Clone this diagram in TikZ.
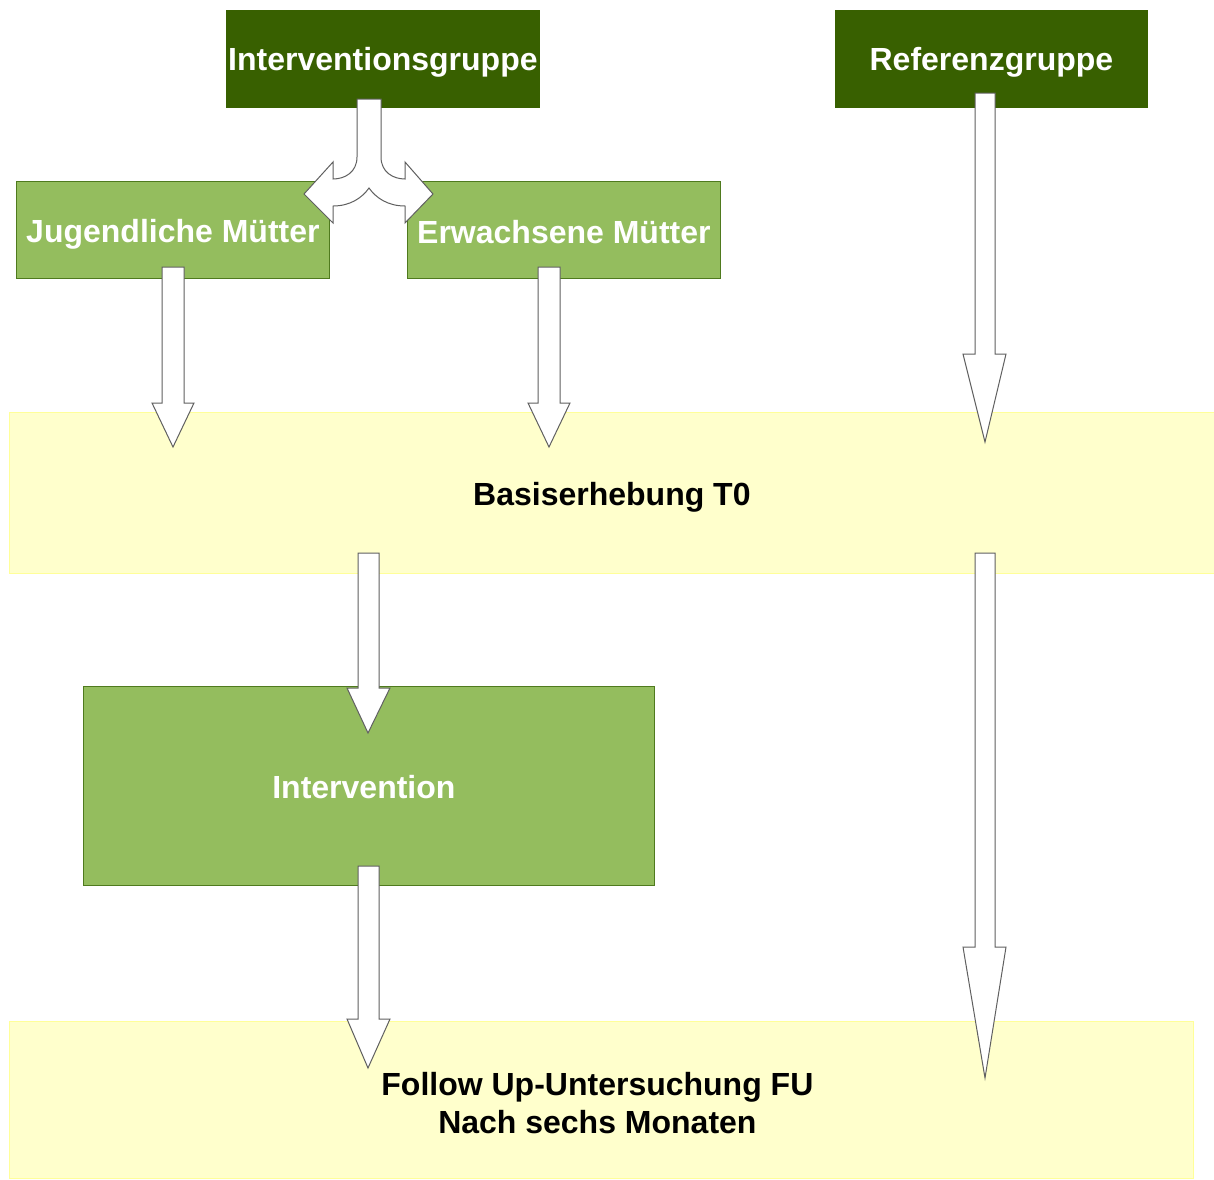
\documentclass[tikz,border=0pt]{standalone}
\usepackage{fontspec}
\setmainfont{Liberation Sans}
\definecolor{darkgreen}{HTML}{386000}
\definecolor{lightgreen}{HTML}{94BD5E}
\definecolor{lgborder}{HTML}{4F7A1E}
\definecolor{bandfill}{HTML}{FFFFCC}
\definecolor{bandborder}{HTML}{FFFF99}
\definecolor{arrowline}{HTML}{606060}
\newcommand{\dnshift}[2]{\raisebox{#1}[\height][\depth]{#2}}
\tikzset{
  darkbox/.style={fill=darkgreen, draw=darkgreen, inner sep=0pt, anchor=north west,
    font=\fontsize{16}{19}\selectfont\bfseries, text=white, align=center},
  greenbox/.style={fill=lightgreen, draw=lgborder, line width=0.4pt, inner sep=0pt, anchor=north west,
    font=\fontsize{16}{19}\selectfont\bfseries, text=white, align=center},
  band/.style={fill=bandfill, draw=bandborder, line width=0.4pt, inner sep=0pt, anchor=north west,
    font=\fontsize{16}{18.5}\selectfont\bfseries, text=black, align=center},
  blockarrow/.style={fill=white, draw=arrowline, line width=0.5pt, line join=miter},
}
\begin{document}
\begin{tikzpicture}[x=0.5pt,y=-0.5pt]
\useasboundingbox[fill=white] (0,0) rectangle (1214,1179);
% bands
\node[band, minimum width=602.5pt, minimum height=80.5pt] (basis) at (9,412) {\dnshift{-2pt}{Basiserhebung T0}};
\node[band, minimum width=592pt, minimum height=78.5pt] (follow) at (9,1021) {\hspace*{-4pt}\dnshift{-1.5pt}{\shortstack{Follow Up-Untersuchung FU\\[1pt]Nach sechs Monaten}}};
% boxes
\node[darkbox, minimum width=156.5pt, minimum height=48.5pt] (ig) at (226,10) {\dnshift{-1.5pt}{Interventionsgruppe}};
\node[darkbox, minimum width=156pt, minimum height=48.5pt] (rg) at (835,10) {\dnshift{-1.5pt}{Referenzgruppe}};
\node[greenbox, minimum width=156.5pt, minimum height=48.5pt] (jm) at (16,181) {\dnshift{-2pt}{Jugendliche Mütter}};
\node[greenbox, minimum width=156.5pt, minimum height=48.5pt] (em) at (407,181) {\dnshift{-1pt}{Erwachsene Mütter}};
\node[greenbox, minimum width=285.5pt, minimum height=99.5pt] (iv) at (83,686) {\hspace*{-5pt}\dnshift{-0.5pt}{Intervention}};
% split arrow
\draw[blockarrow] (357,99) -- (357,157) .. controls (357,172) and (345,179) .. (333,179)
  -- (333,162) -- (304,194) -- (333,223) -- (333,206)
  .. controls (350,206) and (362,198) .. (369,188)
  .. controls (376,198) and (388,206) .. (405,206)
  -- (405,223) -- (433,194) -- (405,162) -- (405,179)
  .. controls (393,179) and (381,172) .. (381,157) -- (381,99) -- cycle;
% down arrows
\draw[blockarrow] (162,267) -- (162,403) -- (152,403) -- (173,447) -- (194,403) -- (184,403) -- (184,267) -- cycle;
\draw[blockarrow] (538,267) -- (538,403) -- (528,403) -- (549,447) -- (570,403) -- (560,403) -- (560,267) -- cycle;
\draw[blockarrow] (975,93) -- (975,354) -- (963,354) -- (985,442) -- (1006,354) -- (995,354) -- (995,93) -- cycle;
\draw[blockarrow] (358,553) -- (358,688) -- (347,688) -- (368,733) -- (390,688) -- (379,688) -- (379,553) -- cycle;
\draw[blockarrow] (358,866) -- (358,1019) -- (347,1019) -- (368,1068) -- (390,1019) -- (379,1019) -- (379,866) -- cycle;
\draw[blockarrow] (975,553) -- (975,947) -- (963,947) -- (985,1078) -- (1006,947) -- (995,947) -- (995,553) -- cycle;
\end{tikzpicture}
\end{document}
